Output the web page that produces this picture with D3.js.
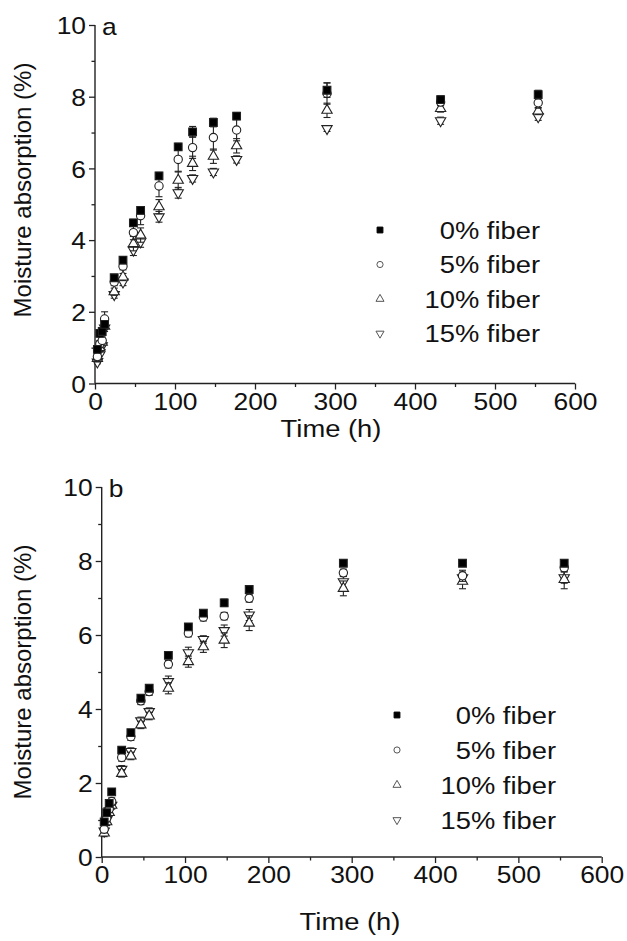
<!DOCTYPE html>
<html><head><meta charset="utf-8">
<script src="https://cdn.jsdelivr.net/npm/d3@7"></script>
<style>
html,body{margin:0;padding:0;background:#fff;}
text{font-family:"Liberation Sans",Arial,sans-serif;fill:#111;}
</style></head>
<body>
<svg id="chart" width="627" height="941"></svg>
<script>
// ---------- DATA ----------
const seriesNames = ["0% fiber", "5% fiber", "10% fiber", "15% fiber"];
const xTicks = [0, 100, 200, 300, 400, 500, 600];
const yTicks = [0, 2, 4, 6, 8, 10];
const xMinor = [50, 150, 250, 350, 450, 550];
const yMinor = [1, 3, 5, 7, 9];

// Panel a
const timeA = [3, 6, 9, 12, 24, 35, 48, 57, 80, 104, 122, 148, 177, 290, 432, 554];
const a0 = [0.95, 1.40, 1.45, 1.65, 2.95, 3.44, 4.48, 4.83, 5.79, 6.60, 7.02, 7.28, 7.46, 8.18, 7.92, 8.06];
const a5 = [0.75, 1.10, 1.20, 1.80, 2.83, 3.27, 4.21, 4.68, 5.51, 6.25, 6.58, 6.86, 7.07, 8.09, 7.85, 7.83];
const a10 = [0.70, 1.00, 1.15, 1.60, 2.56, 2.97, 3.90, 4.14, 4.93, 5.67, 6.14, 6.34, 6.63, 7.62, 7.67, 7.60];
const a15 = [0.60, 0.80, 1.05, 1.55, 2.48, 2.83, 3.72, 3.95, 4.65, 5.32, 5.72, 5.90, 6.25, 7.11, 7.33, 7.44];
const a0err = [0.05, 0.10, 0.10, 0.10, 0.08, 0.10, 0.10, 0.10, 0.10, 0.10, 0.15, 0.12, 0.10, 0.20, 0.10, 0.12];
const a5err = [0.10, 0.10, 0.10, 0.20, 0.10, 0.10, 0.20, 0.25, 0.30, 0.35, 0.30, 0.35, 0.30, 0.30, 0.10, 0.15];
const a10err = [0.10, 0.10, 0.10, 0.10, 0.10, 0.10, 0.20, 0.20, 0.20, 0.25, 0.20, 0.20, 0.20, 0.20, 0.10, 0.10];
const a15err = [0.05, 0.10, 0.10, 0.10, 0.10, 0.10, 0.15, 0.15, 0.15, 0.15, 0.10, 0.10, 0.10, 0.08, 0.10, 0.10];

// Panel b
const timeB = [3, 6, 9, 12, 24, 35, 47, 57, 80, 104, 122, 147, 177, 290, 433, 555];
const b0 = [0.95, 1.20, 1.45, 1.76, 2.89, 3.36, 4.29, 4.56, 5.45, 6.22, 6.59, 6.87, 7.23, 7.94, 7.94, 7.94];
const b5 = [0.75, 1.05, 1.30, 1.50, 2.69, 3.25, 4.22, 4.47, 5.21, 6.05, 6.48, 6.51, 6.99, 7.68, 7.60, 7.82];
const b10 = [0.65, 0.95, 1.20, 1.40, 2.26, 2.73, 3.57, 3.81, 4.56, 5.28, 5.68, 5.86, 6.32, 7.26, 7.45, 7.50];
const b15 = [0.70, 1.00, 1.25, 1.40, 2.37, 2.85, 3.68, 3.93, 4.74, 5.52, 5.88, 6.12, 6.54, 7.44, 7.55, 7.55];
const b0err = [0.05, 0.05, 0.05, 0.05, 0.05, 0.05, 0.05, 0.05, 0.05, 0.05, 0.05, 0.10, 0.08, 0.05, 0.05, 0.05];
const b5err = [0.10, 0.10, 0.10, 0.10, 0.10, 0.10, 0.10, 0.10, 0.10, 0.10, 0.10, 0.10, 0.10, 0.10, 0.15, 0.10];
const b10err = [0.10, 0.10, 0.10, 0.10, 0.10, 0.10, 0.10, 0.10, 0.15, 0.15, 0.15, 0.20, 0.20, 0.20, 0.20, 0.25];
const b15err = [0.10, 0.10, 0.10, 0.10, 0.10, 0.10, 0.10, 0.10, 0.15, 0.15, 0.10, 0.15, 0.15, 0.15, 0.15, 0.15];

// ---------- DRAW ----------
const svg = d3.select("#chart");
const symbolTypes = [d3.symbolSquare, d3.symbolCircle, d3.symbolTriangle, d3.symbolTriangle];
const symbolFill = ["#000", "#fff", "#fff", "#fff"];
const symbolRot = [0, 0, 0, 180];
const symbolSize = [60, 54, 46, 46];
const legendSize = [34, 30, 28, 28];
const FS = 24, SX = 1.1, SXL = 1.14;

function drawPanel(cfg) {
  const x = d3.scaleLinear().domain([0, 600]).range([cfg.left, cfg.right]);
  const y = d3.scaleLinear().domain([0, 10]).range([cfg.bottom, cfg.top]);
  const g = svg.append("g");

  const xAxis = d3.axisBottom(x).tickValues(xTicks).tickSize(6).tickPadding(3).tickFormat(d3.format("d"));
  const yAxis = d3.axisLeft(y).tickValues(yTicks).tickSize(6).tickPadding(3).tickFormat(d3.format("d"));
  const gx = g.append("g").attr("transform", `translate(0,${cfg.bottom})`).call(xAxis);
  const gy = g.append("g").attr("transform", `translate(${cfg.left},0)`).call(yAxis);
  g.append("g").attr("transform", `translate(0,${cfg.bottom})`)
    .call(d3.axisBottom(x).tickValues(xMinor).tickSize(3.5).tickFormat(""));
  g.append("g").attr("transform", `translate(${cfg.left},0)`)
    .call(d3.axisLeft(y).tickValues(yMinor).tickSize(3.5).tickFormat(""));
  g.selectAll(".domain").remove();
  g.append("line").attr("x1", cfg.left).attr("x2", x(600)).attr("y1", cfg.bottom).attr("y2", cfg.bottom)
    .attr("stroke", "#222").attr("stroke-width", 1.4);
  g.append("line").attr("x1", cfg.left).attr("x2", cfg.left).attr("y1", cfg.bottom).attr("y2", y(10))
    .attr("stroke", "#222").attr("stroke-width", 1.4);
  g.selectAll(".tick line").attr("stroke", "#222").attr("stroke-width", 1.3);
  gx.selectAll(".tick text").attr("font-size", FS).attr("fill", "#111")
    .attr("transform", `scale(${SX},1)`);
  gy.selectAll(".tick text").attr("font-size", FS).attr("fill", "#111").attr("dy", "0.36em")
    .attr("x", -9 / SX).attr("transform", `scale(${SX},1)`);

  g.append("text").attr("transform", `translate(${cfg.left + 7},${y(10) + 10}) scale(${SX},1)`)
    .attr("font-size", FS).text(cfg.letter);

  g.append("text").attr("transform", `translate(${cfg.ytitleX},${cfg.ytitleY}) rotate(-90)`)
    .attr("text-anchor", "middle").attr("font-size", 24).text("Moisture absorption (%)");
  g.append("text").attr("transform", `translate(${cfg.xtitleX},${cfg.xtitleY}) scale(${SXL},1)`)
    .attr("text-anchor", "middle").attr("font-size", FS).text("Time (h)");

  const order = [3, 2, 1, 0];
  order.forEach(si => {
    const vals = cfg.values[si], errs = cfg.errors[si];
    const sg = g.append("g");
    cfg.time.forEach((t, i) => {
      const cx = x(t), v = vals[i], e = errs[i];
      sg.append("line").attr("x1", cx).attr("x2", cx).attr("y1", y(v - e)).attr("y2", y(v + e))
        .attr("stroke", "#222").attr("stroke-width", 1.1);
      [v - e, v + e].forEach(w => sg.append("line").attr("x1", cx - 3.5).attr("x2", cx + 3.5)
        .attr("y1", y(w)).attr("y2", y(w)).attr("stroke", "#222").attr("stroke-width", 1.1));
    });
    sg.selectAll("path.pt").data(cfg.time).enter().append("path").attr("class", "pt")
      .attr("d", d3.symbol().type(symbolTypes[si]).size(symbolSize[si]))
      .attr("transform", (t, i) => `translate(${x(t)},${y(vals[i])}) rotate(${symbolRot[si]})`)
      .attr("fill", symbolFill[si]).attr("stroke", "#222").attr("stroke-width", 1.1);
  });

  seriesNames.forEach((name, si) => {
    const ly = cfg.legendY + si * cfg.legendStep;
    g.append("path").attr("d", d3.symbol().type(symbolTypes[si]).size(legendSize[si]))
      .attr("transform", `translate(${cfg.legendMarkX},${ly}) rotate(${symbolRot[si]})`)
      .attr("fill", symbolFill[si]).attr("stroke", si === 0 ? "#000" : "#555").attr("stroke-width", 1);
    g.append("text").attr("transform", `translate(${cfg.legendTextX},${ly}) scale(${SXL},1)`)
      .attr("dy", "0.36em").attr("text-anchor", "end").attr("font-size", FS).text(name);
  });
}

drawPanel({
  left: 95, right: 575, top: 25, bottom: 383.5, letter: "a",
  time: timeA, values: [a0, a5, a10, a15], errors: [a0err, a5err, a10err, a15err],
  ytitleX: 31, ytitleY: 190, xtitleX: 331, xtitleY: 437,
  legendY: 230, legendStep: 34.5, legendMarkX: 380, legendTextX: 540
});
drawPanel({
  left: 101.7, right: 601.7, top: 487, bottom: 857, letter: "b",
  time: timeB, values: [b0, b5, b10, b15], errors: [b0err, b5err, b10err, b15err],
  ytitleX: 31, ytitleY: 672, xtitleX: 350, xtitleY: 930,
  legendY: 715, legendStep: 35, legendMarkX: 397, legendTextX: 556
});
</script>
</body></html>
